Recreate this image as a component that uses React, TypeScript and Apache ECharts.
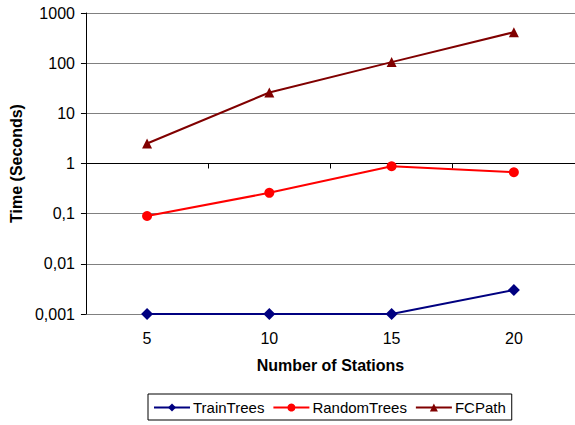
import React, { useEffect, useRef } from "react";
import * as echarts from "echarts";

const categories = ["5", "10", "15", "20"];
const trainTrees = [0.001, 0.001, 0.001, 0.003];
const randomTrees = [0.09, 0.26, 0.88, 0.67];
const fcPath = [2.5, 26, 105, 415];
const yTickLabels: Record<string, string> = {
  "0.001": "0,001",
  "0.01": "0,01",
  "0.1": "0,1",
  "1": "1",
  "10": "10",
  "100": "100",
  "1000": "1000",
};

const FONT = "'Liberation Sans', Arial, sans-serif";

export default function App() {
  const ref = useRef<HTMLDivElement>(null);
  useEffect(() => {
    if (!ref.current) return;
    const chart = echarts.init(ref.current, undefined, { renderer: "svg" });
    const gridTop = 13;
    const gridBottom = 111;
    const gridH = 425 - gridTop - gridBottom;
    chart.setOption({
      animation: false,
      textStyle: { fontFamily: FONT },
      grid: { left: 84, right: 0, top: gridTop, bottom: gridBottom, containLabel: false },
      legend: {
        left: 148,
        top: 394,
        padding: [6, 6, 5, 5],
        borderColor: "#000",
        borderWidth: 1,
        itemWidth: 36,
        itemHeight: 10,
        itemGap: 8,
        textStyle: { fontFamily: FONT, fontSize: 15, color: "#000", padding: [0, 0, 0, -2] },
        data: ["TrainTrees", "RandomTrees", "FCPath"],
      },
      xAxis: [
        {
          type: "category",
          data: categories,
          position: "bottom",
          axisLine: { show: false },
          axisTick: { show: false },
          axisLabel: { fontFamily: FONT, fontSize: 16, color: "#000", margin: 16 },
          name: "Number of Stations",
          nameLocation: "middle",
          nameGap: 43,
          nameTextStyle: { fontFamily: FONT, fontSize: 16, fontWeight: "bold", color: "#000" },
          splitLine: { show: false },
        },
        {
          type: "category",
          data: categories,
          position: "bottom",
          offset: -gridH / 2,
          axisLine: { show: true, lineStyle: { color: "#000", width: 1 } },
          axisTick: { show: true, length: 5, inside: false, lineStyle: { color: "#000" } },
          axisLabel: { show: false },
          splitLine: { show: false },
        },
      ],
      yAxis: {
        type: "log",
        logBase: 10,
        min: 0.001,
        max: 1000,
        axisLine: { show: true, lineStyle: { color: "#000", width: 1 } },
        axisTick: { show: true, length: 5, lineStyle: { color: "#000" } },
        axisLabel: {
          fontFamily: FONT,
          fontSize: 16,
          color: "#000",
          margin: 11,
          formatter: (v: number) => {
            const key = String(Number(v.toPrecision(6)));
            return yTickLabels[key] ?? key.replace(".", ",");
          },
        },
        splitLine: { show: true, lineStyle: { color: "#808080", width: 1 } },
        minorTick: { show: false },
        name: "Time (Seconds)",
        nameLocation: "middle",
        nameGap: 59,
        nameRotate: 90,
        nameTextStyle: { fontFamily: FONT, fontSize: 16, fontWeight: "bold", color: "#000" },
      },
      series: [
        {
          name: "TrainTrees",
          type: "line",
          data: trainTrees,
          xAxisIndex: 0,
          symbol: "diamond",
          symbolSize: 12,
          itemStyle: { color: "#000080" },
          lineStyle: { color: "#000080", width: 2 },
        },
        {
          name: "RandomTrees",
          type: "line",
          data: randomTrees,
          xAxisIndex: 0,
          symbol: "circle",
          symbolSize: 10,
          itemStyle: { color: "#FF0000" },
          lineStyle: { color: "#FF0000", width: 2 },
        },
        {
          name: "FCPath",
          type: "line",
          data: fcPath,
          xAxisIndex: 0,
          symbol: "triangle",
          symbolSize: 10,
          itemStyle: { color: "#800000" },
          lineStyle: { color: "#800000", width: 2 },
        },
      ],
    });
    return () => chart.dispose();
  }, []);
  return <div ref={ref} style={{ width: 575, height: 425, position: "absolute", left: 0, top: 0 }} />;
}
